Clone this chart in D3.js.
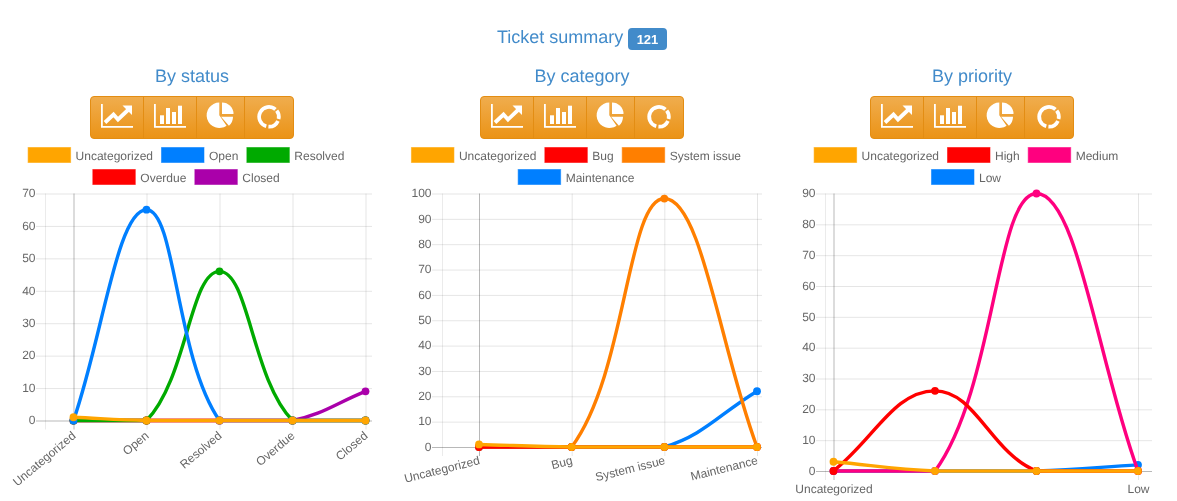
<!DOCTYPE html>
<html>
<head>
<meta charset="utf-8">
<script src="https://cdn.jsdelivr.net/npm/d3@7/dist/d3.min.js"></script>
<style>
html,body{margin:0;padding:0;background:#fff;overflow:hidden}
svg{display:block;will-change:transform}
text{font-family:"Liberation Sans",Arial,sans-serif;text-rendering:geometricPrecision}
</style>
</head>
<body>
<svg id="c" width="1177" height="501"></svg>
<script>
// ---- data ----
const statusCategories = ["Uncategorized","Open","Resolved","Overdue","Closed"];
const statusNames = ["Uncategorized","Open","Resolved","Overdue","Closed"];
const statusColors = ["#ffa500","#007fff","#00aa00","#ff0000","#aa00aa"];
const statusValues = [
  [1,0,0,0,0],
  [0,65,0,0,0],
  [0,0,46,0,0],
  [0,0,0,0,0],
  [0,0,0,0,9]
];
const categoryCategories = ["Uncategorized","Bug","System issue","Maintenance"];
const categoryNames = ["Uncategorized","Bug","System issue","Maintenance"];
const categoryColors = ["#ffa500","#ff0000","#ff7f00","#007fff"];
const categoryValues = [
  [1,0,0,0],
  [0,0,0,0],
  [0,0,98,0],
  [0,0,0,22]
];
const priorityCategories = ["Uncategorized","High","Medium","Low"];
const priorityNames = ["Uncategorized","High","Medium","Low"];
const priorityColors = ["#ffa500","#ff0000","#ff007f","#007fff"];
const priorityValues = [
  [3,0,0,0],
  [0,26,0,0],
  [0,0,90,0],
  [0,0,0,2]
];
const priorityShownTicks = ["Uncategorized","Low"];
const statusTicks = d3.range(0,71,10);
const categoryTicks = d3.range(0,101,10);
const priorityTicks = d3.range(0,91,10);
const summaryTitle = "Ticket summary";
const summaryCount = "121";

// ---- layout of the three panels ----
const panels = [
 {title:"By status",cats:statusCategories,names:statusNames,colors:statusColors,vals:statusValues,ticks:statusTicks,shown:statusCategories,
  ox:0,left:45.5,first:73.5,last:365.5,right:372,labelEnd:36,bottom:420.5,rot:-40,lx:2.5,ly:16.5,dom:[0,70]},
 {title:"By category",cats:categoryCategories,names:categoryNames,colors:categoryColors,vals:categoryValues,ticks:categoryTicks,shown:categoryCategories,
  ox:390,left:442.5,first:479,last:757,right:762,labelEnd:432,bottom:447,rot:-14,lx:1,ly:17,dom:[0,100]},
 {title:"By priority",cats:priorityCategories,names:priorityNames,colors:priorityColors,vals:priorityValues,ticks:priorityTicks,shown:priorityShownTicks,
  ox:780,left:825.5,first:833.5,last:1138,right:1152,labelEnd:816,bottom:471,rot:0,lx:0,ly:21.5,dom:[0,90]}
];
const plotTop = 193.5;
const svg = d3.select("#c");

// Bezier spline that follows the distance-weighted tangent rule, capped to the plot area
function splineCurve(tension,area){
  return function(ctx){
    let pts=[];
    const clamp=(v,a,b)=>Math.max(a,Math.min(b,v));
    return {
      areaStart(){},areaEnd(){},
      lineStart(){pts=[];},
      point(x,y){pts.push([+x,+y]);},
      lineEnd(){
        const c=pts.map((p,i)=>{
          const a=pts[Math.max(i-1,0)],b=pts[Math.min(i+1,pts.length-1)];
          const d01=Math.hypot(p[0]-a[0],p[1]-a[1]),d12=Math.hypot(b[0]-p[0],b[1]-p[1]);
          const s=d01+d12,fa=tension*d01/s,fb=tension*d12/s;
          const cap=(x,y)=>[clamp(x,area.x0,area.x1),clamp(y,area.y0,area.y1)];
          return {prev:cap(p[0]-fa*(b[0]-a[0]),p[1]-fa*(b[1]-a[1])),
                  next:cap(p[0]+fb*(b[0]-a[0]),p[1]+fb*(b[1]-a[1]))};
        });
        pts.forEach((p,i)=>{
          if(i===0) ctx.moveTo(p[0],p[1]);
          else ctx.bezierCurveTo(c[i-1].next[0],c[i-1].next[1],c[i].prev[0],c[i].prev[1],p[0],p[1]);
        });
      }
    };
  };
}

// page title
svg.append("text").attr("x",497).attr("y",43).attr("font-size",18).attr("fill","#428bca").text(summaryTitle);
svg.append("rect").attr("x",628).attr("y",28).attr("width",39).attr("height",22).attr("rx",4).attr("fill","#428bca");
svg.append("text").attr("x",647.5).attr("y",43.5).attr("text-anchor","middle").attr("font-size",13).attr("font-weight","bold").attr("fill","#fff").text(summaryCount);

// button gradient
const defs=svg.append("defs");
const lg=defs.append("linearGradient").attr("id","btn").attr("x1",0).attr("x2",0).attr("y1",0).attr("y2",1);
lg.append("stop").attr("offset","0%").attr("stop-color","#f0ad4e");
lg.append("stop").attr("offset","100%").attr("stop-color","#eb9316");

function drawButtons(g){
  g.append("rect").attr("x",90.5).attr("y",96.5).attr("width",203).attr("height",42).attr("rx",3.5)
    .attr("fill","url(#btn)").attr("stroke","#e38d13");
  [143.5,196.5,244.5].forEach(x=>g.append("line").attr("x1",x).attr("x2",x).attr("y1",97).attr("y2",138).attr("stroke","#e38d13"));
  const w="#fff";
  // line-chart icon
  g.append("path").attr("fill",w).attr("d","M101 104h1.8v22h30.2v1.8H101z");
  g.append("path").attr("fill","none").attr("stroke",w).attr("stroke-width",3.8).attr("d","M105 122.5l8.5-8 4.5 5 10-9.5");
  g.append("path").attr("fill",w).attr("d","M122.5 105.5h9.5v9.5z");
  // bar-chart icon
  g.append("path").attr("fill",w).attr("d","M154 104h1.8v22h30.2v1.8H154z");
  [[160,115.3,4,8.7],[166,108,4,16],[172,112,4,12],[178,105.7,4,18.3]].forEach(r=>
    g.append("rect").attr("x",r[0]).attr("y",r[1]).attr("width",r[2]).attr("height",r[3]).attr("fill",w));
  // pie icon
  const arc=d3.arc();
  g.append("path").attr("transform","translate(219.3,115.3)").attr("fill",w)
    .attr("d",arc({innerRadius:0,outerRadius:12.7,startAngle:2.53,endAngle:2*Math.PI}));
  g.append("path").attr("transform","translate(222,114)").attr("fill",w)
    .attr("d",arc({innerRadius:0,outerRadius:11.5,startAngle:0,endAngle:Math.PI/2}));
  g.append("path").attr("transform","translate(221,116.8)").attr("fill",w)
    .attr("d",arc({innerRadius:0,outerRadius:12,startAngle:Math.PI/2,endAngle:2.42}));
  // donut icon
  [[0.9,1.8],[2.0,3.2],[3.42,7.0]].forEach(a=>
    g.append("path").attr("transform","translate(269,116.8)").attr("fill",w)
     .attr("d",arc({innerRadius:8,outerRadius:11.7,startAngle:a[0],endAngle:a[1]})));
}

panels.forEach(p=>{
  // panel heading
  svg.append("text").attr("x",p.ox+192).attr("y",82).attr("text-anchor","middle")
    .attr("font-size",18).attr("fill","#428bca").text(p.title);
  drawButtons(svg.append("g").attr("transform",`translate(${p.ox},0)`));

  // legend: measured flow layout, centred on the canvas
  const leg=svg.append("g");
  const probe=svg.append("text").attr("font-size",12).attr("fill","#666");
  const widths=p.names.map(n=>{probe.text(n);return probe.node().getComputedTextLength();});
  probe.remove();
  const item=i=>48+widths[i], gap=8, maxW=372, rows=[[]];
  let cur=0;
  p.names.forEach((n,i)=>{
    const need=item(i)+(rows[rows.length-1].length?gap:0);
    if(cur+need>maxW-40){rows.push([i]);cur=item(i);}
    else{rows[rows.length-1].push(i);cur+=need;}
  });
  rows.forEach((r,ri)=>{
    const tot=d3.sum(r,item)+gap*(r.length-1);
    let x=p.ox+186-tot/2;
    const y=147.5+22*ri;
    r.forEach(i=>{
      leg.append("rect").attr("x",x+.5).attr("y",y).attr("width",42.5).attr("height",15)
        .attr("fill",p.colors[i]).attr("stroke",p.colors[i]).attr("stroke-opacity",0.55).attr("stroke-width",1);
      leg.append("text").attr("x",x+48).attr("y",y+12.5).attr("font-size",12).attr("fill","#666").text(p.names[i]);
      x+=item(i)+gap;
    });
  });

  // scales
  const x=d3.scalePoint().domain(p.cats).range([p.first,p.last]);
  const y=d3.scaleLinear().domain(p.dom).range([p.bottom,plotTop]);

  // horizontal grid through the y axis
  const yAxis=svg.append("g").attr("transform",`translate(${p.right},0)`)
    .call(d3.axisLeft(y).tickValues(p.ticks).tickSize(p.right-p.labelEnd).tickPadding(0.5));
  yAxis.select(".domain").remove();
  yAxis.selectAll("line").attr("stroke",d=>d===0?"rgba(0,0,0,0.28)":"rgba(0,0,0,0.1)");
  yAxis.selectAll("text").attr("font-size",12).attr("font-family","'Liberation Sans',Arial,sans-serif").attr("fill","#666").attr("dy","0.27em");

  // extra vertical grid line at the left edge
  svg.append("line").attr("x1",p.left).attr("x2",p.left).attr("y1",plotTop).attr("y2",p.bottom+9).attr("stroke","rgba(0,0,0,0.08)");

  // vertical grid through the x axis
  const xAxis=svg.append("g").attr("transform",`translate(0,${plotTop})`)
    .call(d3.axisBottom(x).tickValues(p.shown).tickSize(p.bottom-plotTop+9));
  xAxis.select(".domain").remove();
  xAxis.selectAll("line").attr("stroke",d=>d===p.cats[0]?"rgba(0,0,0,0.28)":"rgba(0,0,0,0.1)");
  const xt=xAxis.selectAll("text").attr("font-size",12).attr("font-family","'Liberation Sans',Arial,sans-serif").attr("fill","#666").attr("dy",null);
  if(p.rot){
    xt.attr("text-anchor","end").attr("y",0)
      .attr("transform",`translate(${p.lx},${p.bottom-plotTop+p.ly}) rotate(${p.rot})`);
  } else {
    xt.attr("text-anchor","middle").attr("y",p.bottom-plotTop+p.ly);
  }

  // series: first series ends on top
  const area={x0:p.left,x1:p.right,y0:plotTop,y1:p.bottom};
  const line=d3.line().x((d,i)=>x(p.cats[i])).y(d=>y(d)).curve(splineCurve(0.4,area));
  const order=p.vals.map((_,i)=>i).reverse();
  order.forEach(s=>{
    svg.append("path").datum(p.vals[s]).attr("d",line).attr("fill","none").attr("stroke",p.colors[s]).attr("stroke-width",3.4);
    svg.append("g").selectAll("circle").data(p.vals[s]).join("circle")
      .attr("cx",(d,i)=>x(p.cats[i])).attr("cy",d=>y(d)).attr("r",3.9).attr("fill",p.colors[s]);
  });
});
</script>
</body>
</html>
